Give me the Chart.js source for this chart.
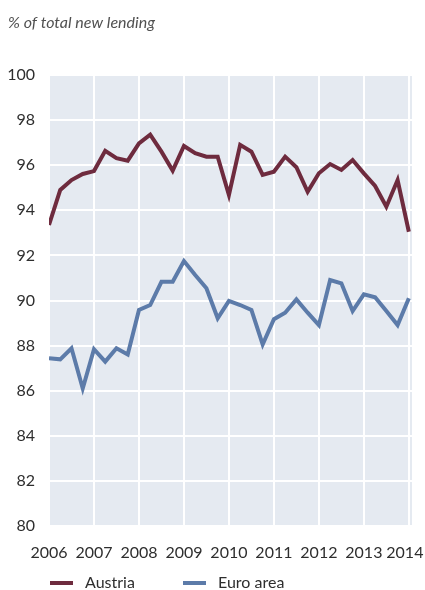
<!DOCTYPE html>
<html><head><meta charset="utf-8">
<script src="https://cdn.jsdelivr.net/npm/chart.js@4.4.1/dist/chart.umd.min.js"></script>
<style>html,body{margin:0;padding:0;background:#fff}#wrap{width:425px;height:590px;position:relative}</style>
</head><body><div id="wrap"><canvas id="c" width="425" height="590"></canvas></div>
<script>
const quarters = ['2006Q1','2006Q2','2006Q3','2006Q4','2007Q1','2007Q2','2007Q3','2007Q4',
  '2008Q1','2008Q2','2008Q3','2008Q4','2009Q1','2009Q2','2009Q3','2009Q4',
  '2010Q1','2010Q2','2010Q3','2010Q4','2011Q1','2011Q2','2011Q3','2011Q4',
  '2012Q1','2012Q2','2012Q3','2012Q4','2013Q1','2013Q2','2013Q3','2013Q4','2014Q1'];
const austria = [93.35,94.9,95.34,95.61,95.74,96.64,96.31,96.2,
  96.97,97.35,96.6,95.76,96.85,96.53,96.38,96.38,
  94.68,96.9,96.6,95.57,95.71,96.38,95.91,94.82,
  95.64,96.05,95.79,96.23,95.64,95.08,94.16,95.34,93.05];
const euroArea = [87.44,87.39,87.88,86.1,87.84,87.29,87.88,87.61,
  89.58,89.8,90.83,90.83,91.75,91.13,90.54,89.21,
  89.98,89.8,89.58,88.05,89.17,89.46,90.05,89.46,
  88.91,90.91,90.76,89.53,90.27,90.14,89.53,88.91,90.1];
const yTicks = [80,82,84,86,88,90,92,94,96,98,100];
const yearTicks = [2006,2007,2008,2009,2010,2011,2012,2013,2014];
const seriesNames = ['Austria','Euro area'];
const seriesColors = ['#6E2B3E','#5C7BA9'];
const titleText = '% of total new lending';

const FONT = 'Lato, "Open Sans", sans-serif';
const TEXT = '#2e2e2e';

function qx(label){ return Number(label.slice(0,4)) + (Number(label.slice(5)) - 1) / 4; }
function toPoints(vals){ return vals.map((v,i)=>({x:qx(quarters[i]), y:v})); }

const bgPlugin = {
  id:'bg',
  beforeDraw(chart){
    const {ctx, chartArea:a} = chart;
    ctx.save(); ctx.fillStyle = '#E5EAF1';
    ctx.fillRect(a.left, a.top, a.right-a.left, a.bottom-a.top);
    ctx.restore();
  }
};
const textPlugin = {
  id:'texts',
  afterDraw(chart){
    const ctx = chart.ctx;
    ctx.save();
    ctx.font = 'italic 16px ' + FONT;
    ctx.fillStyle = '#505050';
    ctx.textBaseline = 'middle';
    ctx.textAlign = 'left';
    ctx.fillText(titleText, 8, 23);
    const swX = [50, 183];
    ctx.font = '16px ' + FONT;
    chart.data.datasets.forEach((ds, i) => {
      ctx.strokeStyle = ds.borderColor; ctx.lineWidth = 4; ctx.lineCap = 'butt';
      ctx.beginPath(); ctx.moveTo(swX[i], 583); ctx.lineTo(swX[i]+23, 583); ctx.stroke();
      ctx.fillStyle = TEXT;
      ctx.fillText(ds.label, swX[i]+35, 583);
    });
    ctx.restore();
  }
};

new Chart(document.getElementById('c'), {
  type:'line',
  data:{ datasets:[
    {label:seriesNames[0], data:toPoints(austria), borderColor:seriesColors[0], backgroundColor:seriesColors[0], borderWidth:4, pointRadius:0, tension:0, fill:false},
    {label:seriesNames[1], data:toPoints(euroArea), borderColor:seriesColors[1], backgroundColor:seriesColors[1], borderWidth:4, pointRadius:0, tension:0, fill:false}
  ]},
  options:{
    responsive:false, devicePixelRatio:1, animation:false,
    layout:{padding:{top:75, right:13, left:0, bottom:0}},
    plugins:{legend:{display:false}, title:{display:false}, tooltip:{enabled:false}},
    scales:{
      x:{ type:'linear', min:2006, max:2014.07,
        afterBuildTicks(s){ s.ticks = yearTicks.map(v=>({value:v})); },
        afterFit(s){ s.height = 64; s.paddingLeft = 0; s.paddingRight = 0; },
        afterUpdate(s){
          const proto = Object.getPrototypeOf(s);
          s.getLabelItems = function(area){
            const items = proto.getLabelItems.call(this, area);
            const last = items[items.length-1];
            if (last && !last._shifted) { last.options.translation[0] -= 4; last._shifted = true; }
            return items;
          };
        },
        grid:{color:'#ffffff', lineWidth:2, drawTicks:false}, border:{display:false},
        ticks:{ includeBounds:false, padding:17, color:TEXT, font:{family:FONT, size:16}, maxRotation:0, autoSkip:false,
          callback:(v)=>String(v) } },
      y:{ min:80, max:100,
        afterBuildTicks(s){ s.ticks = yTicks.map(v=>({value:v})); },
        afterFit(s){ s.width = 49; s.paddingTop = 0; s.paddingBottom = 0; },
        grid:{color:'#ffffff', lineWidth:2, drawTicks:false}, border:{display:false},
        ticks:{ padding:14, color:TEXT, font:{family:FONT, size:16}, callback:(v)=>String(v) } }
    }
  },
  plugins:[bgPlugin, textPlugin]
});
</script></body></html>
